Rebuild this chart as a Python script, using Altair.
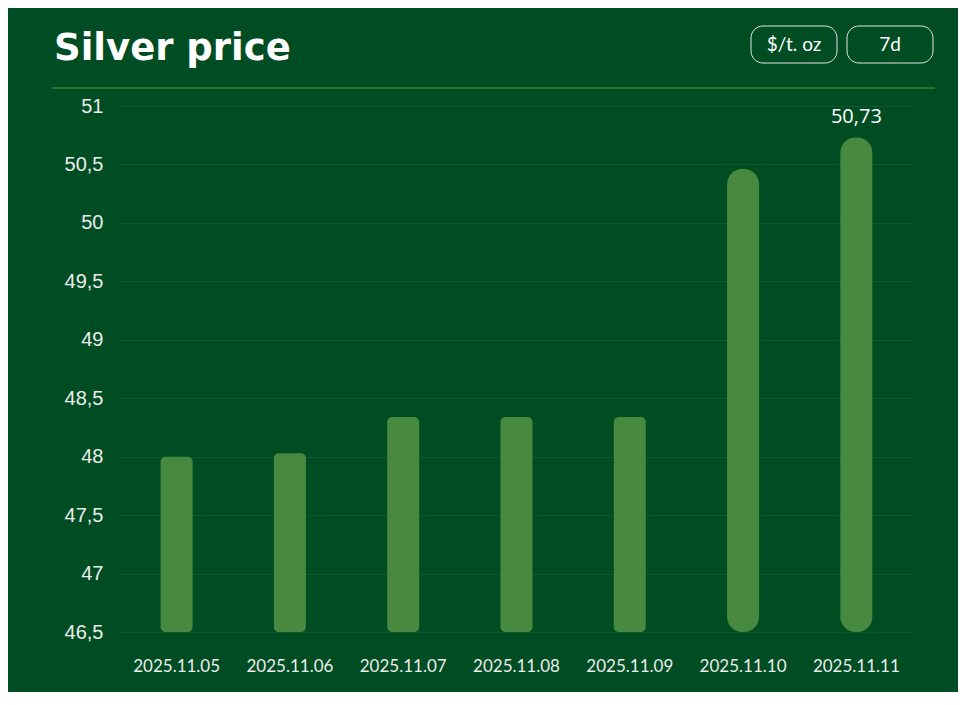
import altair as alt
import pandas as pd

# ---- data ----
dates = ["2025.11.05", "2025.11.06", "2025.11.07", "2025.11.08",
         "2025.11.09", "2025.11.10", "2025.11.11"]
prices = [48.00, 48.03, 48.34, 48.34, 48.34, 50.46, 50.73]
y_ticks = [46.5, 47, 47.5, 48, 48.5, 49, 49.5, 50, 50.5, 51]
title_text = ["Silver price"]
unit_label = ["$/t. oz"]
period_label = ["7d"]

df = pd.DataFrame({"date": dates, "price": prices})

W, H = 793, 526
BG = "#004d23"
BAR = "#46893f"
GRID = "#0c5a2b"
RULE = "#5a9b3a"
TXT = "#ececec"

comma = "replace(toString(datum.value), '.', ',')"

base = alt.Chart(df)

bars = base.mark_bar(
    size=32, color=BAR,
    cornerRadius={"expr": "datum.price > 50 ? 15 : 5"},
).encode(
    x=alt.X("date:N", sort=dates,
            scale=alt.Scale(paddingInner=0, paddingOuter=0),
            axis=alt.Axis(title=None, labelAngle=0, ticks=False, domain=False,
                          labelPadding=26, labelFont="Lato", labelFontSize=17,
                          labelColor=TXT, grid=False)),
    y=alt.Y("price:Q",
            scale=alt.Scale(domain=[46.5, 51], zero=False, nice=False),
            axis=alt.Axis(title=None, values=y_ticks, labelExpr=comma,
                          ticks=False, domain=False, labelPadding=17,
                          labelFont="Liberation Sans", labelFontSize=20,
                          labelColor=TXT, grid=True, gridColor=GRID,
                          gridWidth=1)),
    y2=alt.datum(46.5),
)

value_label = base.transform_filter(
    alt.datum.date == dates[-1]
).transform_calculate(
    lbl="replace(toString(datum.price), '.', ',')"
).mark_text(
    dy=-11, baseline="bottom", font="Open Sans", fontSize=20, color="white"
).encode(
    x=alt.X("date:N", sort=dates),
    y="price:Q",
    text="lbl:N",
)

title = alt.Chart(pd.DataFrame({"t": title_text})).mark_text(
    align="left", baseline="alphabetic", font="DejaVu Sans",
    fontWeight="bold", fontSize=37, color="white"
).encode(x=alt.value(-66), y=alt.value(-46), text="t:N")

header_rule = alt.Chart(pd.DataFrame({"t": [0]})).mark_rule(
    color=RULE, strokeWidth=1
).encode(x=alt.value(-68), x2=alt.value(815), y=alt.value(-18))

box1 = alt.Chart(pd.DataFrame({"t": [0]})).mark_rect(
    fill=BG, stroke="#e6e6e6", strokeWidth=1, cornerRadius=12
).encode(x=alt.value(631), x2=alt.value(717), y=alt.value(-80), y2=alt.value(-43))

box2 = alt.Chart(pd.DataFrame({"t": [0]})).mark_rect(
    fill=BG, stroke="#e6e6e6", strokeWidth=1, cornerRadius=12
).encode(x=alt.value(727), x2=alt.value(813), y=alt.value(-80), y2=alt.value(-43))

txt1 = alt.Chart(pd.DataFrame({"t": unit_label})).mark_text(
    align="center", baseline="middle", font="Lato",
    fontSize=19, color="white"
).encode(x=alt.value(674), y=alt.value(-61), text="t:N")

txt2 = alt.Chart(pd.DataFrame({"t": period_label})).mark_text(
    align="center", baseline="middle", font="Lato",
    fontSize=19, color="white"
).encode(x=alt.value(770), y=alt.value(-61), text="t:N")

chart = alt.layer(
    bars, value_label, title, header_rule, box1, box2, txt1, txt2
).properties(
    width=W, height=H,
    padding={"left": 112, "top": 98, "right": 45, "bottom": 60},
    autosize=alt.AutoSizeParams(type="none"),
    background=BG,
).configure_view(stroke="transparent")

chart.save("out.html", embed_options={"renderer": "svg", "actions": False})
